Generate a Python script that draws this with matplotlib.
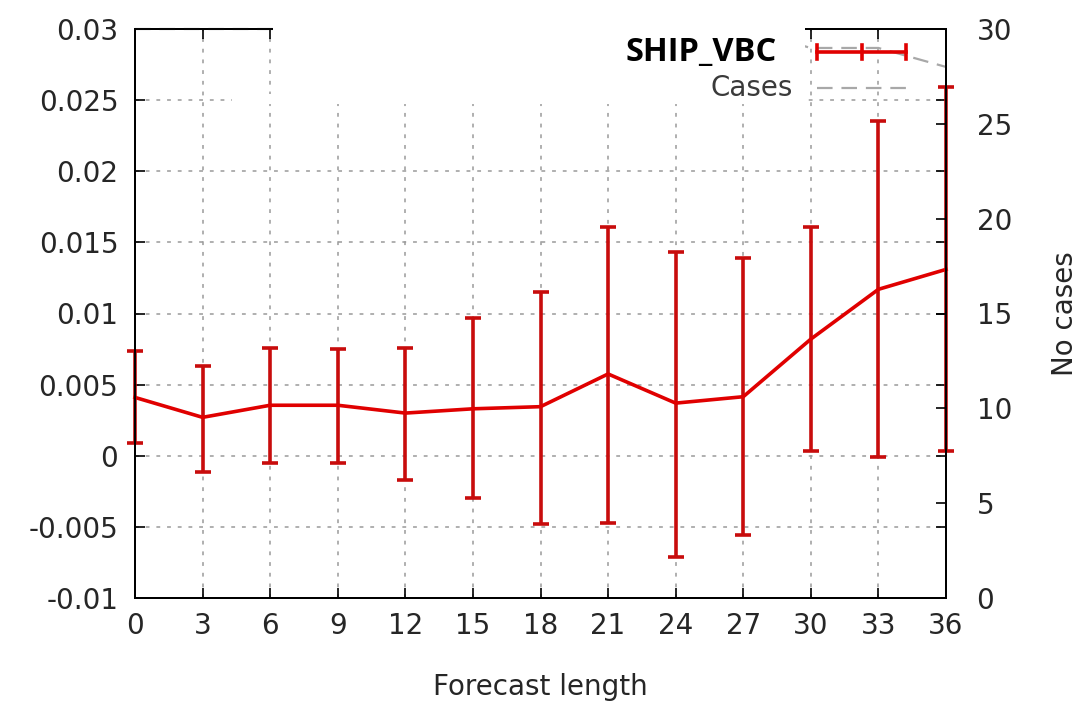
import matplotlib
matplotlib.use('Agg')
import matplotlib.pyplot as plt
from matplotlib.patches import Rectangle
from matplotlib.lines import Line2D
from matplotlib.ticker import FuncFormatter, MultipleLocator

# forecast lengths (hours)
steps = [0, 3, 6, 9, 12, 15, 18, 21, 24, 27, 30, 33, 36]
# SHIP_VBC mean and error bar ends
ship_mean = [0.0041, 0.0027, 0.00355, 0.00355, 0.0030, 0.0033, 0.00345,
             0.00575, 0.0037, 0.00415, 0.0082, 0.0117, 0.0131]
ship_low = [0.0009, -0.00115, -0.0005, -0.0005, -0.0017, -0.0030, -0.0048,
            -0.0047, -0.0071, -0.0056, 0.0003, -0.0001, 0.0003]
ship_high = [0.00735, 0.0063, 0.0076, 0.0075, 0.0076, 0.0097, 0.0115,
             0.0161, 0.0143, 0.0139, 0.0161, 0.0235, 0.0259]
# number of cases (right axis)
cases = [30, 30, 30, 30, 30, 30, 30, 30, 30, 30, 29, 29, 28]

W, H = 1089, 707
red = '#e00000'
grey_txt = '#262626'


def px(x, y):  # pixel position -> figure fraction
    return x / W, 1 - y / H


fig = plt.figure(figsize=(W / 100, H / 100), dpi=100)
ax = fig.add_axes([135 / W, 1 - 598 / H, (946 - 135) / W, (598 - 29) / H])
ax2 = ax.twinx()

yerr = [[m - lo for m, lo in zip(ship_mean, ship_low)],
        [hi - m for m, hi in zip(ship_mean, ship_high)]]
ax.errorbar(steps, ship_mean, yerr=yerr, color=red, ecolor='#c80c0c', lw=2.6,
            elinewidth=2.6, capsize=6, capthick=2.6, zorder=3, clip_on=False)

ax2.plot(steps, cases, color='#a8a8a8', lw=1.6, dashes=(7, 4), clip_on=False, zorder=2)

ax.set_xlim(0, 36)
ax.set_ylim(-0.01, 0.03)
ax2.set_ylim(0, 30)
ax.xaxis.set_major_locator(MultipleLocator(3))
ax.yaxis.set_major_locator(MultipleLocator(0.005))
ax2.yaxis.set_major_locator(MultipleLocator(5))
ax.yaxis.set_major_formatter(FuncFormatter(lambda v, _: f'{v:g}'))

ax.grid(True, color='#9a9a9a', lw=1.1, dashes=(2.5, 4.5))
ax.tick_params(direction='in', length=7, width=1.2, labelsize=20, colors='black',
               labelcolor=grey_txt, top=True, right=True)
ax.tick_params(axis='y', pad=12)
ax.tick_params(axis='x', pad=10)
ax2.tick_params(direction='in', length=7, width=1.2, labelsize=20,
                labelcolor=grey_txt, pad=22)
for a in (ax, ax2):
    for s in a.spines.values():
        s.set_linewidth(1.4)
        s.set_color('black')

ax.set_xlabel('Forecast length', fontsize=20, color=grey_txt, labelpad=24)
ax2.set_ylabel('No cases', fontsize=20, color=grey_txt, labelpad=28)

# white patch covering the top of the plot
for (x0, y0, x1, y1) in [(273, 26, 805, 104), (232, 94, 273, 104)]:
    fx0, fy1 = px(x0, y1)
    fig.patches.append(Rectangle((fx0, fy1), (x1 - x0) / W, (y1 - y0) / H,
                                 transform=fig.transFigure, facecolor='white',
                                 edgecolor='none', zorder=5))

# key
fig.text(*px(777, 52), 'SHIP_VBC', ha='right', va='center', fontsize=23.5,
         fontweight='bold', family='Open Sans', color='black', zorder=6)
fig.text(*px(793, 88), 'Cases', ha='right', va='center', fontsize=20,
         color='#3a3a3a', zorder=6)
xa, _ = px(817, 0)
xb, _ = px(906, 0)
xm, _ = px(862, 0)
_, yk = px(0, 52)
fig.lines.append(Line2D([xa, xb], [yk, yk], transform=fig.transFigure, color=red,
                        lw=2.6, zorder=6))
for xc in (xa, xm, xb):
    fig.lines.append(Line2D([xc, xc], [yk - 7 / H, yk + 7 / H], transform=fig.transFigure,
                            color=red, lw=2.6, zorder=6))
_, yc = px(0, 88)
fig.lines.append(Line2D([xa, xb], [yc, yc], transform=fig.transFigure, color='#a8a8a8',
                        lw=1.6, dashes=(7, 4), zorder=6))

fig.savefig('out.png', dpi=100)
